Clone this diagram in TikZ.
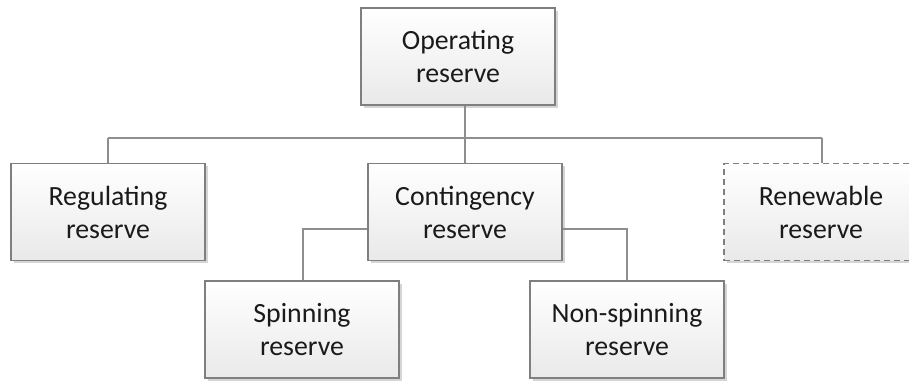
\documentclass[tikz,border=0pt]{standalone}
\usepackage{fontspec}
\setmainfont{Carlito}
\usetikzlibrary{shadows}
\definecolor{boxline}{HTML}{7F7F7F}
\definecolor{linkline}{HTML}{8E8E8E}
\definecolor{boxbottom}{HTML}{E9E9E9}
\definecolor{txt}{HTML}{1A1A1A}
\tikzset{
  unit/.style={
    rectangle, draw=boxline, line width=1.1pt,
    top color=white, bottom color=boxbottom,
    minimum width=194pt, minimum height=97pt, inner sep=0pt,
    align=center, text=txt,
    font=\fontsize{27.8}{33}\selectfont,
    drop shadow={opacity=0.18, shadow xshift=2.5pt, shadow yshift=-2.5pt}
  },
  optional/.style={unit, dashed, dash pattern=on 6pt off 4pt},
  link/.style={draw=linkline, line width=1.3pt},
  linkglow/.style={draw=black!8, line width=1.3pt}
}
\begin{document}
\begin{tikzpicture}[x=1pt, y=-1pt]
\useasboundingbox (0,0) rectangle (909,381);
\clip (0,0) rectangle (909,381);

% boxes (placed first so the lines can refer to them)
\node[unit] (op)    at (458,56.5)  {Operating\\reserve};
\node[unit] (reg)   at (108,212)   {Regulating\\reserve};
\node[unit] (cont)  at (465,212)   {Contingency\\reserve};
\node[optional] (ren) at (821,212) {Renewable\\reserve};
\node[unit] (spin)  at (302,329.5) {Spinning\\reserve};
\node[unit] (nspin) at (627,329.5) {Non-spinning\\reserve};

% junction points of the tree lines
\coordinate (bus) at (465,138);
\coordinate (busL) at (108,138);
\coordinate (busR) at (822,138);
\coordinate (cl) at (303,229);
\coordinate (cr) at (627,229);

% faint offset shadows under the tree lines
\begin{scope}[shift={(2.5,2.5)}]
  \draw[linkglow] (busL) -- (busR);
  \draw[linkglow] (cl) -- (cl |- spin.north);
  \draw[linkglow] (cl) -- (cr);
  \draw[linkglow] (cr) -- (cr |- nspin.north);
\end{scope}

% tree lines
\draw[link] (op.south -| bus) -- (bus);
\draw[link] (busL) -- (busR);
\draw[link] (bus) -- (cont.north);
\draw[link] (busL) -- (reg.north);
\draw[link] (busR) -- (ren.north -| busR);
\draw[link] (cont.west |- cl) -- (cl) -- (cl |- spin.north);
\draw[link] (cont.east |- cr) -- (cr) -- (nspin.north);

% boxes drawn again above the lines
\node[unit] at (op)    {Operating\\reserve};
\node[unit] at (reg)   {Regulating\\reserve};
\node[unit] at (cont)  {Contingency\\reserve};
\node[optional] at (ren) {Renewable\\reserve};
\node[unit] at (spin)  {Spinning\\reserve};
\node[unit] at (nspin) {Non-spinning\\reserve};
\end{tikzpicture}
\end{document}
